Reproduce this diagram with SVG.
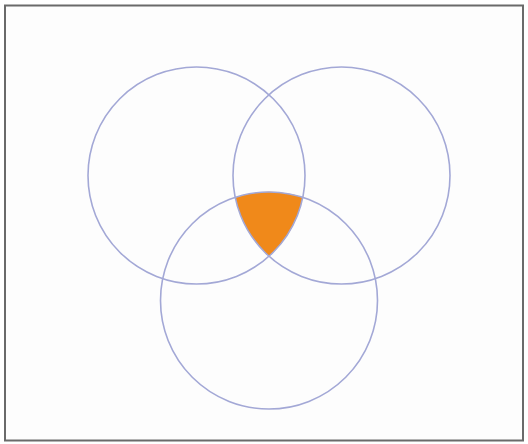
<svg xmlns="http://www.w3.org/2000/svg" width="528" height="444" viewBox="0 0 528 444">
<style>
.c{fill:none;stroke:#a3a8d6;stroke-width:1.6}
</style>
<rect x="0" y="0" width="528" height="444" fill="#ffffff"/>
<rect x="5" y="5.5" width="518" height="435" fill="#fdfdfd" stroke="#6a6a6a" stroke-width="2"/>
<g id="region">
<path d="M235.2 197.4 A108.5 108.5 0 0 1 302.8 197.4 A108.5 108.5 0 0 1 269 256.2 A108.5 108.5 0 0 1 235.2 197.4 Z" fill="#f0891a"/>
</g>
<g id="circleLeft"><circle class="c" cx="196.5" cy="175.5" r="108.5"/></g>
<g id="circleRight"><circle class="c" cx="341.5" cy="175.5" r="108.5"/></g>
<g id="circleBottom"><circle class="c" cx="269" cy="300.5" r="108.5"/></g>
</svg>
